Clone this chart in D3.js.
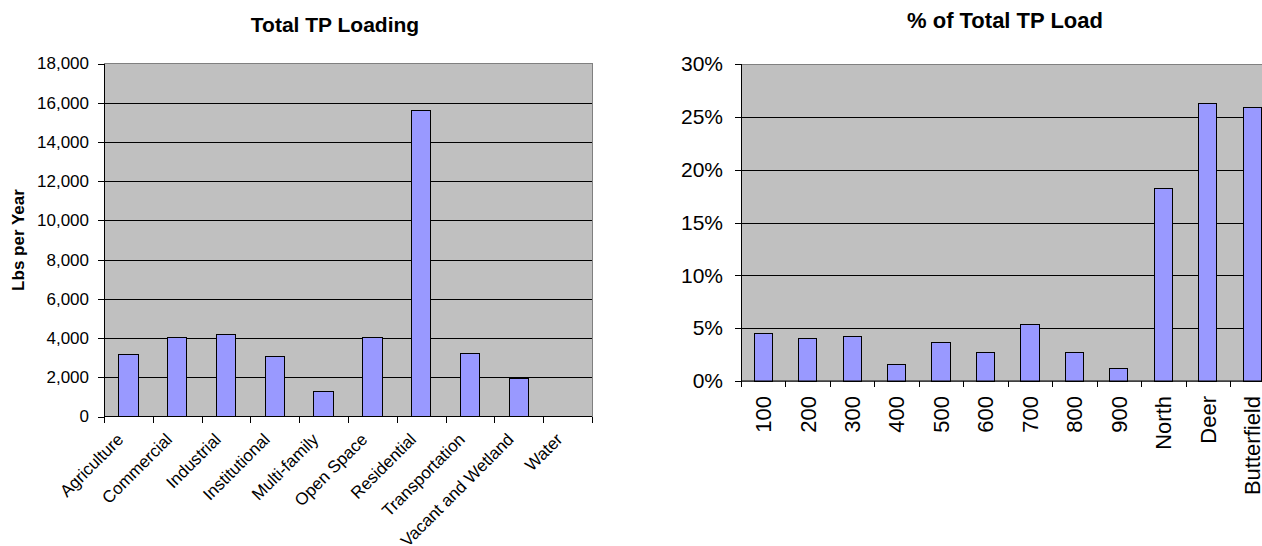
<!DOCTYPE html>
<html>
<head>
<meta charset="utf-8">
<script src="https://cdn.jsdelivr.net/npm/d3@7"></script>
<style>
  body { margin: 0; background: #fff; }
  svg { display: block; font-family: Arial, "Liberation Sans", sans-serif; }
  .grid line { stroke: #000; shape-rendering: crispEdges; }
  .axis path, .axis line { stroke: #000; shape-rendering: crispEdges; }
  .bar { fill: #9999ff; stroke: #000; stroke-width: 1; shape-rendering: crispEdges; }
</style>
</head>
<body>
<div id="root"></div>
<script>
// left chart: loading by land use
var landUses = ["Agriculture", "Commercial", "Industrial", "Institutional", "Multi-family",
    "Open Space", "Residential", "Transportation", "Vacant and Wetland", "Water"];
var tpLoad = [3150, 4050, 4200, 3050, 1250, 4050, 15600, 3200, 1950, 0];
var loadTicks = [0, 2000, 4000, 6000, 8000, 10000, 12000, 14000, 16000, 18000];

// right chart: share of load by subwatershed
var subwatersheds = ["100", "200", "300", "400", "500", "600", "700", "800", "900",
    "North", "Deer", "Butterfield"];
var pctLoad = [0.045, 0.040, 0.042, 0.016, 0.036, 0.027, 0.053, 0.027, 0.0115, 0.182, 0.263, 0.259];
var pctTicks = [0, 0.05, 0.10, 0.15, 0.20, 0.25, 0.30];

var svg = d3.select("#root").append("svg")
    .attr("width", 1262)
    .attr("height", 546);

// ---------- left chart ----------
var left = { x0: 104, x1: 592, y0: 63.5, y1: 416.5 };

var x1 = d3.scaleBand()
    .domain(landUses)
    .range([left.x0, left.x1])
    .paddingInner(0.6)
    .paddingOuter(0.3);

var y1 = d3.scaleLinear()
    .domain([0, 18000])
    .range([left.y1, left.y0]);

var g1 = svg.append("g");

g1.append("rect")
    .attr("x", left.x0).attr("y", left.y0)
    .attr("width", left.x1 - left.x0).attr("height", left.y1 - left.y0)
    .attr("fill", "#c0c0c0")
    .attr("stroke", "#808080")
    .attr("shape-rendering", "crispEdges");

g1.append("g").attr("class", "grid")
    .selectAll("line")
    .data(loadTicks.filter(function(d) { return d > 0 && d < 18000; }))
    .enter().append("line")
    .attr("x1", left.x0).attr("x2", left.x1)
    .attr("y1", function(d) { return Math.round(y1(d)) + 0.5; })
    .attr("y2", function(d) { return Math.round(y1(d)) + 0.5; });

// water has no load, so no bar is drawn for it
g1.selectAll(".bar")
    .data(landUses.map(function(c, i) { return { cat: c, val: tpLoad[i] }; })
        .filter(function(d) { return d.val > 0; }))
    .enter().append("rect")
    .attr("class", "bar")
    .attr("x", function(d) { return x1(d.cat); })
    .attr("y", function(d) { return y1(d.val); })
    .attr("width", x1.bandwidth())
    .attr("height", function(d) { return y1(0) - y1(d.val); });

var yAxis1 = g1.append("g")
    .attr("class", "axis")
    .attr("transform", "translate(" + left.x0 + ",0)")
    .call(d3.axisLeft(y1).tickValues(loadTicks).tickFormat(d3.format(",")).tickSize(6).tickPadding(9));
yAxis1.selectAll("text").attr("font-size", 17).attr("fill", "#000");

// category boundary ticks
var bounds1 = d3.range(landUses.length + 1).map(function(i) { return left.x0 + i * x1.step(); });
g1.append("g").attr("class", "axis")
    .selectAll("line").data(bounds1).enter().append("line")
    .attr("x1", function(d) { return Math.round(d) + 0.5; })
    .attr("x2", function(d) { return Math.round(d) + 0.5; })
    .attr("y1", left.y1).attr("y2", left.y1 + 6);
g1.append("line")
    .attr("x1", left.x0).attr("x2", left.x1)
    .attr("y1", left.y1).attr("y2", left.y1)
    .attr("stroke", "#000");

g1.selectAll(".xlab")
    .data(landUses)
    .enter().append("text")
    .attr("class", "xlab")
    .attr("font-size", 17)
    .attr("text-anchor", "end")
    .attr("transform", function(d) {
        return "translate(" + (x1(d) + x1.bandwidth() / 2 - 4) + "," + (left.y1 + 24) + ") rotate(-45)";
    })
    .text(function(d) { return d; });

g1.append("text")
    .attr("x", 335).attr("y", 32)
    .attr("text-anchor", "middle")
    .attr("font-size", 21)
    .attr("font-weight", "bold")
    .text("Total TP Loading");

g1.append("text")
    .attr("transform", "translate(24,240) rotate(-90)")
    .attr("text-anchor", "middle")
    .attr("font-size", 17)
    .attr("font-weight", "bold")
    .text("Lbs per Year");

// ---------- right chart ----------
var right = { x0: 741, x1: 1274.4, y0: 64, y1: 381 };

var x2 = d3.scaleBand()
    .domain(subwatersheds)
    .range([right.x0, right.x1])
    .paddingInner(0.59)
    .paddingOuter(0.295);

var y2 = d3.scaleLinear()
    .domain([0, 0.30])
    .range([right.y1, right.y0]);

var g2 = svg.append("g");

g2.append("rect")
    .attr("x", right.x0).attr("y", right.y0)
    .attr("width", right.x1 - right.x0).attr("height", right.y1 - right.y0)
    .attr("fill", "#c0c0c0")
    .attr("stroke", "#808080")
    .attr("shape-rendering", "crispEdges");

g2.append("g").attr("class", "grid")
    .selectAll("line")
    .data(pctTicks.filter(function(d) { return d > 0 && d < 0.3; }))
    .enter().append("line")
    .attr("x1", right.x0).attr("x2", right.x1)
    .attr("y1", function(d) { return Math.round(y2(d)) + 0.5; })
    .attr("y2", function(d) { return Math.round(y2(d)) + 0.5; });

g2.selectAll(".bar")
    .data(pctLoad)
    .enter().append("rect")
    .attr("class", "bar")
    .attr("x", function(d, i) { return x2(subwatersheds[i]); })
    .attr("y", function(d) { return y2(d); })
    .attr("width", x2.bandwidth())
    .attr("height", function(d) { return y2(0) - y2(d); });

var yAxis2 = g2.append("g")
    .attr("class", "axis")
    .attr("transform", "translate(" + right.x0 + ",0)")
    .call(d3.axisLeft(y2).tickValues(pctTicks).tickFormat(d3.format(".0%")).tickSize(6).tickPadding(12));
yAxis2.selectAll("text").attr("font-size", 21).attr("fill", "#000");

var bounds2 = d3.range(subwatersheds.length + 1).map(function(i) { return right.x0 + i * x2.step(); });
g2.append("g").attr("class", "axis")
    .selectAll("line").data(bounds2).enter().append("line")
    .attr("x1", function(d) { return Math.round(d) + 0.5; })
    .attr("x2", function(d) { return Math.round(d) + 0.5; })
    .attr("y1", right.y1).attr("y2", right.y1 + 6);
g2.append("line")
    .attr("x1", right.x0).attr("x2", right.x1)
    .attr("y1", right.y1).attr("y2", right.y1)
    .attr("stroke", "#000");

g2.selectAll(".xlab")
    .data(subwatersheds)
    .enter().append("text")
    .attr("class", "xlab")
    .attr("font-size", 22)
    .attr("text-anchor", "end")
    .attr("dy", "0.36em")
    .attr("transform", function(d) {
        return "translate(" + (x2(d) + x2.bandwidth() / 2) + "," + (right.y1 + 15) + ") rotate(-90)";
    })
    .text(function(d) { return d; });

g2.append("text")
    .attr("x", 1005).attr("y", 28)
    .attr("text-anchor", "middle")
    .attr("font-size", 22)
    .attr("font-weight", "bold")
    .text("% of Total TP Load");
</script>
</body>
</html>
